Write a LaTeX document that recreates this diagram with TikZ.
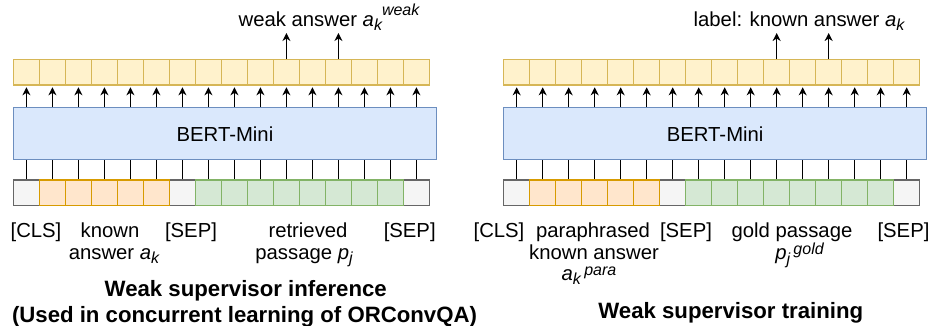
\documentclass[tikz,border=0pt]{standalone}
\usepackage{fontspec}
\setmainfont{Liberation Sans}
\usetikzlibrary{arrows.meta}
\definecolor{yfill}{HTML}{FFF2CC}\definecolor{ydraw}{HTML}{D6B656}
\definecolor{bfill}{HTML}{DAE8FC}\definecolor{bdraw}{HTML}{6C8EBF}
\definecolor{ofill}{HTML}{FFE6CC}\definecolor{odraw}{HTML}{D79B00}
\definecolor{gfill}{HTML}{D5E8D4}\definecolor{gdraw}{HTML}{82B366}
\definecolor{sfill}{HTML}{F5F5F5}\definecolor{sdraw}{HTML}{666666}
\newcommand{\lowtxt}[1]{\raisebox{-4.5pt}{\fontsize{16}{16}\selectfont\itshape #1}}
\newcommand{\hightxt}[2]{\raisebox{#1}{\fontsize{16}{16}\selectfont\itshape #2}}
\begin{document}
\begin{tikzpicture}[x=1pt,y=-1pt,
  cell/.style={draw, line width=1.3pt, minimum width=26pt, minimum height=25.5pt, inner sep=0pt, anchor=north west},
  ycell/.style={cell, fill=yfill, draw=ydraw},
  ocell/.style={cell, fill=ofill, draw=odraw},
  gcell/.style={cell, fill=gfill, draw=gdraw},
  scell/.style={cell, fill=sfill, draw=sdraw},
  bert/.style={draw=bdraw, fill=bfill, line width=1.3pt, minimum width=423pt, minimum height=52pt, inner sep=0pt, anchor=north west, font=\fontsize{20.3}{22}\selectfont},
  lbl/.style={anchor=base, inner sep=0pt, font=\fontsize{20.3}{22}\selectfont},
  ttl/.style={anchor=base, inner sep=0pt, font=\bfseries\fontsize{22.2}{27}\selectfont},
  arr/.style={-{Stealth[length=8pt,width=8pt,inset=2.5pt]}, line width=1.4pt},
  conn/.style={line width=1.3pt}]
\useasboundingbox (0,0) rectangle (930,326);
\foreach \P/\X in {L/12.8, R/503}{
  \foreach \i in {1,...,16}
    \node[ycell] (\P-t\i) at ({\X+26*(\i-1)},59) {};
  \node[bert] (\P-bert) at (\X,107) {BERT-Mini};
  \foreach \i in {1,7,16}
    \node[scell] (\P-b\i) at ({\X+26*(\i-1)},179.5) {};
  \foreach \i in {2,...,6}
    \node[ocell] (\P-b\i) at ({\X+26*(\i-1)},179.5) {};
  \foreach \i in {8,...,15}
    \node[gcell] (\P-b\i) at ({\X+26*(\i-1)},179.5) {};
  \foreach \i in {1,...,16}{
    \draw[arr] (\P-bert.north -| \P-t\i.south) -- ([yshift=-1.5pt]\P-t\i.south);
    \draw[conn] (\P-bert.south -| \P-b\i.north) -- (\P-b\i.north);
  }
  \foreach \i in {11,13}{
    \path (\P-t\i.north) ++(0,-26) coordinate (\P-o\i);
    \draw[arr] (\P-t\i.north) -- (\P-o\i);
  }
}
% left labels
\node[lbl] (l-out) at (329,26.5) {weak answer \textit{a}\lowtxt{k}\hightxt{11pt}{weak}};
\node[lbl] (l-cls) at (36,237) {[CLS]};
\node[lbl] (l-known1) at (110,237) {known};
\node[lbl] (l-known2) at (114,259) {answer \textit{a}\lowtxt{k}};
\node[lbl] (l-sep1) at (191,237) {[SEP]};
\node[lbl] (l-ret1) at (308,237) {retrieved};
\node[lbl] (l-ret2) at (304,259) {passage \textit{p}\lowtxt{j}};
\node[lbl] (l-sep2) at (409.7,237) {[SEP]};
\node[ttl] (l-title1) at (245.8,296) {Weak supervisor inference};
\node[ttl] (l-title2) at (244.5,322) {(Used in concurrent learning of ORConvQA)};
% right labels
\node[lbl] (r-out) at (799,26.5) {label: known answer \textit{a}\lowtxt{k}};
\node[lbl] (r-cls) at (499,237) {[CLS]};
\node[lbl] (r-para1) at (593,237) {paraphrased};
\node[lbl] (r-para2) at (594,259) {known answer};
\node[lbl] (r-para3) at (589,280) {\textit{a}\lowtxt{k}\,\hightxt{5pt}{para}};
\node[lbl] (r-sep1) at (686,237) {[SEP]};
\node[lbl] (r-gold1) at (792,237) {gold passage};
\node[lbl] (r-gold2) at (799.5,259.5) {\textit{p}\lowtxt{j}\,\hightxt{5.5pt}{gold}};
\node[lbl] (r-sep2) at (903.5,237) {[SEP]};
\node[ttl] (r-title) at (730.8,318.3) {Weak supervisor training};
\end{tikzpicture}
\end{document}
